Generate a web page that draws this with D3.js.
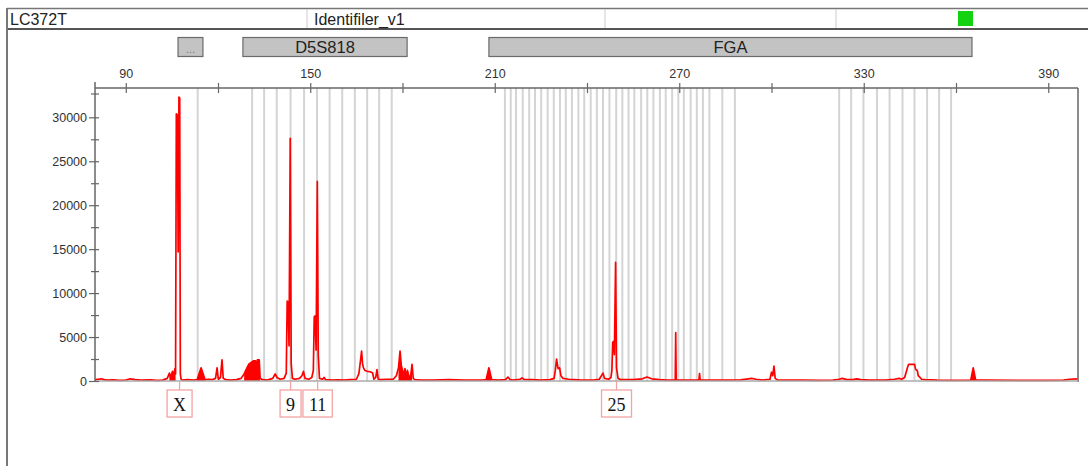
<!DOCTYPE html>
<html><head><meta charset="utf-8">
<script src="https://cdn.jsdelivr.net/npm/d3@7"></script>
<style>
html,body{margin:0;padding:0;background:#fff;}
svg{display:block;}
</style></head>
<body>
<svg id="chart" width="1088" height="466"></svg>
<script>
// ---------- data ----------
const sampleName = "LC372T";
const panelName = "Identifiler_v1";
const sizeTicks = [90, 150, 210, 270, 330, 390];
const sizeMinorTicks = [120, 180, 240, 300, 360];
const rfuTicks = [0, 5000, 10000, 15000, 20000, 25000, 30000];
const rfuMinorTicks = [2500, 7500, 12500, 17500, 22500, 27500];
const markerNames = ["...", "D5S818", "FGA"];
const markerStart = [107.0, 128.1, 208.1];
const markerEnd = [115.1, 181.5, 365.2];
const binSizes = [113.4,
  131.1, 135.0, 139.1, 143.6, 148.0, 152.2, 156.3, 160.4, 164.5, 168.5, 172.4, 176.5,
  213.3, 215.2, 216.9, 219.1, 221.2, 223.1, 225.1, 227.2, 229.2, 231.2, 233.1, 235.1,
  237.2, 239.1, 241.2, 243.2, 245.2, 247.3, 249.5, 251.5, 253.5, 255.4, 257.6, 259.6,
  261.6, 263.7, 265.6, 267.7, 269.7, 271.5, 273.7, 275.7, 277.7, 279.8, 284.0, 288.1,
  322.0, 325.9, 329.9, 334.3, 338.4, 342.6, 346.5, 350.6, 354.5, 358.4];
const traceSize = [80,81,82,83,84,86,88,90,91.5,93,95,98,100,102,103.5,104.2,104.6,105.2,105.6,106.0,106.2,
  106.45,106.8,107.05,107.3,107.55,107.75,108.0,108.5,110,112,113.2,114.5,115.8,117,118,119.2,119.7,120.1,120.8,
  121.3,121.7,122.5,124,126,127.5,128.5,129.3,130,130.8,131.6,132.2,132.5,132.8,133.4,133.7,134.5,136,137.8,
  138.6,139.2,140.2,141.5,142.2,142.5,142.8,143.1,143.5,143.8,144.2,145,146.5,147.3,147.8,148.3,149.5,150.5,
  151.0,151.3,151.6,151.9,152.3,152.6,153.0,154,154.5,155,157,159,161,163,165,165.8,166.3,166.7,167.0,167.3,
  167.8,168.5,169.5,170.3,170.7,171.3,171.7,172.1,173,175,177,178,178.7,179.2,179.6,180.0,180.4,180.8,181.2,
  181.6,182.0,182.6,183.1,183.5,184,186,190,195,200,206,207.2,208.1,209,211,213.5,214.3,215,216,218.2,218.9,
  219.6,222,225,228,229.3,229.7,230.1,230.6,231.1,231.5,232.2,234,236,238,242,244,245.2,245.7,247,247.8,248.1,
  248.35,248.6,248.9,249.3,249.6,250.1,251,255,258,259.5,261,263.5,266,268.7,268.85,269.0,271,276.4,276.6,
  276.8,280,286,290,292.5,293.5,295,297,299.5,300.0,300.4,300.8,301.2,302,305,310,316,320,322,323,324.5,326.5,
  327.7,329,332,337,340,341.5,342.3,343.3,344.2,344.6,346.5,346.9,347.4,347.7,348.3,348.8,350,354,360,364.8,
  365.6,366.4,370,380,390,395,397,399.5];
const traceRFU = [150,200,250,150,100,120,80,100,250,150,100,120,80,100,300,900,400,1100,600,1400,800,
  30400,30200,14700,32300,32200,800,200,100,150,100,150,1500,150,200,150,300,1500,200,400,
  2400,300,150,100,150,300,800,1400,1900,2100,2300,2300,600,2400,2400,300,150,100,300,
  800,400,200,300,900,9100,9000,4000,27600,2000,300,200,300,600,1100,300,200,400,
  1200,7300,7400,3500,22700,3000,300,200,400,150,100,120,100,150,200,800,2200,3400,2000,1500,
  1200,1100,1050,900,200,400,1300,200,150,200,200,600,1500,3400,1800,1200,600,1400,400,
  1200,600,400,1900,300,150,100,100,150,100,100,150,1500,150,100,150,450,150,100,200,350,
  150,150,100,150,300,1200,2500,1400,1500,600,300,200,150,100,100,200,900,300,200,400,1200,
  4400,4500,3000,13500,1500,300,150,150,250,450,250,150,100,100,5500,100,100,100,850,
  100,100,100,120,250,300,200,100,200,1000,600,1700,300,100,100,100,80,100,200,300,150,150,
  250,150,100,100,200,300,200,400,1500,1900,1900,1300,1200,600,400,200,150,100,80,100,
  1500,100,100,60,80,100,200,250];
const filledRanges = [[104.0, 106.2], [113.2, 115.8], [128.0, 133.7], [178.5, 183.3], [207.2, 209.0], [364.8, 366.4]];
const alleleLabels = ["X", "9", "11", "25"];
const alleleSizes = [107.5, 143.6, 152.4, 249.6];

// ---------- layout ----------
const svg = d3.select("#chart");
const plotL = 95, plotR = 1078, plotT = 88, plotB = 381;
const x = d3.scaleLinear().domain([80, 400]).range([plotL, plotL + 320 * 3.075]);
const y = d3.scaleLinear().domain([0, 33333]).range([plotB, plotT]);
const sansFont = "'Liberation Sans', Arial, sans-serif";

// header
svg.append("line").attr("x1", 7).attr("x2", 1088).attr("y1", 8.5).attr("y2", 8.5).attr("stroke", "#777").attr("stroke-width", 1.5);
svg.append("line").attr("x1", 7).attr("x2", 1088).attr("y1", 29).attr("y2", 29).attr("stroke", "#555").attr("stroke-width", 2.2);
[307, 605, 836].forEach(d => svg.append("line").attr("x1", d).attr("x2", d).attr("y1", 9).attr("y2", 28).attr("stroke", "#ccc").attr("stroke-width", 1));
svg.append("line").attr("x1", 7).attr("x2", 7).attr("y1", 8).attr("y2", 466).attr("stroke", "#777").attr("stroke-width", 2);
svg.append("text").attr("x", 10).attr("y", 25).text(sampleName).attr("font-family", sansFont).attr("font-size", 16).attr("fill", "#222");
svg.append("text").attr("x", 314).attr("y", 25).text(panelName).attr("font-family", sansFont).attr("font-size", 16).attr("fill", "#222");
svg.append("rect").attr("x", 958).attr("y", 11).attr("width", 15).attr("height", 15).attr("fill", "#12d212");

// marker boxes
const mk = svg.append("g");
markerNames.forEach((n, i) => {
  const x0 = x(markerStart[i]), x1 = x(markerEnd[i]);
  mk.append("rect").attr("x", x0).attr("y", 37.5).attr("width", x1 - x0).attr("height", 19)
    .attr("fill", "#c3c3c3").attr("stroke", "#6b6b6b").attr("stroke-width", 1.2);
  mk.append("text").attr("x", (x0 + x1) / 2).attr("y", n === "..." ? 53 : 53).attr("text-anchor", "middle")
    .text(n).attr("font-family", sansFont).attr("font-size", n === "..." ? 11 : 16.5)
    .attr("fill", n === "..." ? "#777" : "#222");
});

// bins
svg.append("g").selectAll("line").data(binSizes).join("line")
  .attr("x1", d => x(d)).attr("x2", d => x(d)).attr("y1", plotT).attr("y2", plotB)
  .attr("stroke", "#d4d4d4").attr("stroke-width", 2);

// trace
const pts = traceSize.map((s, i) => [s, traceRFU[i]]);
const area = d3.area().x(d => x(d[0])).y0(y(0)).y1(d => y(d[1]));
filledRanges.forEach(r => {
  const sub = pts.filter(p => p[0] >= r[0] && p[0] <= r[1]);
  svg.append("path").datum(sub).attr("d", area).attr("fill", "#ff0000");
});
const line = d3.line().x(d => x(d[0])).y(d => y(d[1]));
svg.append("path").datum(pts).attr("d", line).attr("fill", "none").attr("stroke", "#ff0000")
  .attr("stroke-width", 1.7).attr("stroke-linejoin", "round");

// frame
svg.append("line").attr("x1", plotR).attr("x2", plotR).attr("y1", plotT).attr("y2", plotB + 1).attr("stroke", "#666").attr("stroke-width", 1.5);
svg.append("line").attr("x1", plotL).attr("x2", plotR).attr("y1", plotB).attr("y2", plotB).attr("stroke", "#aaa").attr("stroke-width", 1.5);

// top axis
function styleAxis(g) {
  g.select(".domain").attr("stroke", "#666").attr("stroke-width", 1.5);
  g.selectAll(".tick line").attr("stroke", "#666").attr("stroke-width", 1.2);
  g.selectAll("text").attr("font-family", sansFont).attr("font-size", 12.5).attr("fill", "#333");
}
const topAxis = svg.append("g").attr("transform", `translate(0,${plotT})`)
  .call(d3.axisTop(x).tickValues(sizeTicks).tickSizeOuter(0).tickSizeInner(4).tickPadding(6));
styleAxis(topAxis);
topAxis.selectAll(".tick line").attr("y1", 5).attr("y2", -5);
topAxis.select(".domain").attr("d", `M${plotL},0H${plotR}`);
const topMinor = svg.append("g").attr("transform", `translate(0,${plotT})`)
  .call(d3.axisTop(x).tickValues(sizeMinorTicks).tickSize(4).tickFormat(""));
styleAxis(topMinor);
topMinor.select(".domain").remove();
topMinor.selectAll(".tick line").attr("y1", 5).attr("y2", -5);

// left axis
const leftAxis = svg.append("g").attr("transform", `translate(${plotL},0)`)
  .call(d3.axisLeft(y).tickValues(rfuTicks).tickSizeOuter(0).tickSize(6).tickPadding(2).tickFormat(d3.format("d")));
styleAxis(leftAxis);
leftAxis.selectAll(".tick line").attr("x1", 4).attr("x2", -6);
leftAxis.select(".domain").attr("d", `M0,${plotT - 6}V${plotB}`);
const leftMinor = svg.append("g").attr("transform", `translate(${plotL},0)`)
  .call(d3.axisLeft(y).tickValues(rfuMinorTicks).tickSize(4).tickFormat(""));
styleAxis(leftMinor);
leftMinor.select(".domain").remove();
leftMinor.selectAll(".tick line").attr("x1", 4).attr("x2", -4);
svg.append("line").attr("x1", plotL - 4).attr("x2", plotL + 4).attr("y1", plotT + 6).attr("y2", plotT + 6).attr("stroke", "#666").attr("stroke-width", 1.2);

// allele labels
const lab = svg.append("g");
alleleLabels.forEach((t, i) => {
  const cx = x(alleleSizes[i]);
  const txt = lab.append("text").attr("x", cx).attr("y", 411).attr("text-anchor", "middle").text(t)
    .attr("font-family", "'Liberation Serif', 'Times New Roman', serif").attr("font-size", 18).attr("fill", "#111");
  const w = txt.node().getComputedTextLength() + 12;
  lab.insert("rect", "text").attr("x", cx - w / 2).attr("y", 390).attr("width", w).attr("height", 27)
    .attr("fill", "#fff").attr("stroke", "#f3a3a3").attr("stroke-width", 1.3);
  lab.append("line").attr("x1", cx).attr("x2", cx).attr("y1", plotB).attr("y2", 390)
    .attr("stroke", "#f3a3a3").attr("stroke-width", 1.3);
});
</script>
</body></html>
